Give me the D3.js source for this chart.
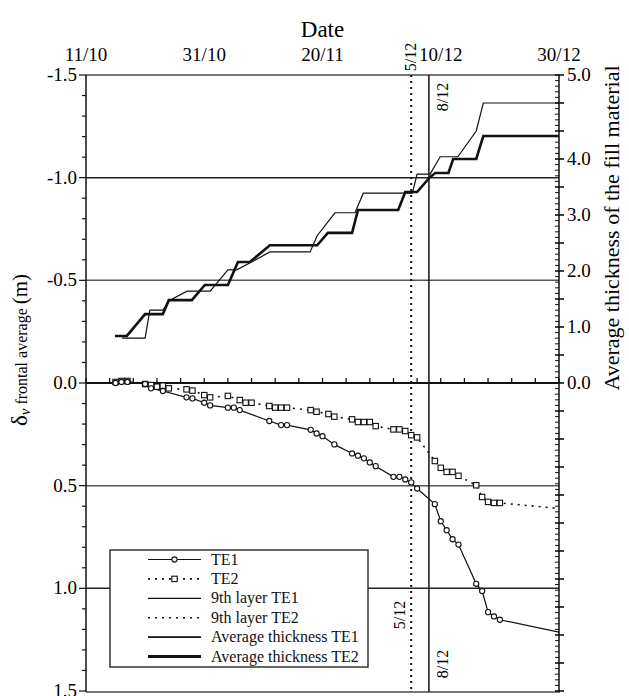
<!DOCTYPE html>
<html>
<head>
<meta charset="utf-8">
<script src="https://cdn.jsdelivr.net/npm/d3@7"></script>
<style>
  body { margin: 0; background: #fff; }
</style>
</head>
<body>
<div id="chart"></div>
<script>
// ── DONNÉES ──────────────────────────────────────────────────────────────
// jours depuis le 11/10
const dateTicks  = [0, 20, 40, 60, 80];
const dateLabels = ['11/10', '31/10', '20/11', '10/12', '30/12'];
const layerDays  = [{ day: 55, label: '5/12', dash: true }, { day: 58, label: '8/12', dash: false }];

const leftTicks  = [-1.5, -1.0, -0.5, 0.0, 0.5, 1.0, 1.5];
const leftLabels = ['-1.5', '-1.0', '-0.5', '0.0', '0.5', '1.0', '1.5'];
const rightTicks  = [0, 1, 2, 3, 4, 5.5];
const rightLabels = ['0.0', '1.0', '2.0', '3.0', '4.0', '5.0'];

// tassement moyen frontal (m) — [jour, valeur]
const te1 = [[5,0],[6,-0.005],[7,-0.005],[10,0.005],[11,0.026],[13,0.039],[17,0.070],[18,0.075],
  [20,0.096],[21,0.109],[24,0.120],[25,0.120],[26,0.132],[31,0.185],[33,0.205],[34,0.205],[38,0.228],
  [39,0.246],[40,0.259],[42,0.299],[45,0.343],[46,0.354],[47,0.367],[48,0.387],[49,0.405],[52,0.457],
  [53,0.457],[54,0.470],[55,0.484],[56,0.514],[59,0.590],[60,0.673],[61,0.717],[62,0.761],[63,0.787],
  [66,0.978],[67,1.013],[68,1.116],[69,1.137],[70,1.153]];
const te1Tail = [[80, 1.213]];
const te2 = [[5,-0.005],[6,-0.01],[7,-0.01],[10,0.005],[11,0.01],[12,0.018],[13,0.013],[14,0.026],
  [17,0.031],[18,0.037],[20,0.059],[21,0.070],[24,0.063],[26,0.083],[27,0.096],[28,0.096],[31,0.112],
  [32,0.120],[33,0.120],[34,0.120],[38,0.132],[39,0.140],[41,0.151],[42,0.164],[45,0.177],[46,0.190],
  [47,0.190],[48,0.190],[49,0.210],[52,0.226],[53,0.226],[54,0.234],[55,0.254],[56,0.265],[59,0.380],
  [60,0.413],[61,0.433],[62,0.433],[63,0.452],[66,0.498],[67,0.555],[68,0.579],[69,0.584],[70,0.584]];
const te2Tail = [[80, 0.611]];

// épaisseur moyenne du remblai (m)
const thickTE1 = [[6.1,0.80],[10.0,0.80],[10.8,1.30],[13.0,1.30],[14.2,1.48],[17.1,1.64],[21.0,1.64],
  [24.0,2.02],[25.5,2.02],[28.0,2.16],[31.1,2.34],[37.9,2.34],[39.1,2.63],[42.1,3.04],[45.5,3.04],
  [46.9,3.39],[55.2,3.39],[56.0,3.73],[58.2,3.73],[59.9,4.04],[62.9,4.04],[66.0,4.50],[67.2,5.0],[80,5.0]];
const thickTE2 = [[4.9,0.84],[6.9,0.84],[10.0,1.23],[13.0,1.23],[14.0,1.48],[17.9,1.48],[20.1,1.75],
  [24.0,1.75],[25.7,2.16],[27.7,2.16],[31.1,2.46],[39.1,2.46],[40.9,2.68],[45.0,2.68],[46.0,3.09],
  [52.8,3.09],[54.0,3.41],[56.0,3.41],[58.2,3.68],[59.1,3.75],[61.3,3.75],[62.1,4.0],[66.0,4.0],
  [67.2,4.41],[80,4.41]];

// ── GRAPHIQUE ────────────────────────────────────────────────────────────
const W = 629, H = 696;
const L = 86, R = 559, T = 75, B = 692;
const svg = d3.select('#chart').append('svg').attr('width', W).attr('height', H)
  .attr('font-family', "'Liberation Serif', 'DejaVu Serif', 'Times New Roman', serif")
  .style('font-family', "'Liberation Serif', 'DejaVu Serif', 'Times New Roman', serif");

const x  = d3.scaleLinear().domain([0, 80]).range([L, R]);
const yL = d3.scaleLinear().domain([-1.5, 1.5]).range([T, B - 1]);
const yR = d3.scaleLinear().domain([0, 5.5]).range([yL(0), T]);

svg.append('defs').append('clipPath').attr('id', 'plot')
  .append('rect').attr('x', L).attr('y', T).attr('width', R - L).attr('height', B - T);

// Grille horizontale
svg.selectAll('.grid').data([-1.0, -0.5, 0.5, 1.0]).enter().append('line')
  .attr('x1', L).attr('x2', R).attr('y1', d => yL(d)).attr('y2', d => yL(d))
  .attr('stroke', d => Math.abs(d) === 1 ? '#222' : '#555').attr('stroke-width', 1.5);

// Cadre haut / bas
[T, B].forEach(yy => svg.append('line').attr('x1', L).attr('x2', R + 1).attr('y1', yy).attr('y2', yy)
  .attr('stroke', '#777').attr('stroke-width', 2));

// Ligne zéro + petits repères tous les 4 jours
svg.append('line').attr('x1', L).attr('x2', R).attr('y1', yL(0)).attr('y2', yL(0))
  .attr('stroke', '#111').attr('stroke-width', 2);
svg.selectAll('.dtick').data(d3.range(0, 81, 4)).enter().append('line')
  .attr('x1', d => x(d)).attr('x2', d => x(d)).attr('y1', yL(0)).attr('y2', yL(0) - 5)
  .attr('stroke', '#111').attr('stroke-width', 1.3);

// Axe gauche
svg.append('line').attr('x1', L).attr('x2', L).attr('y1', T).attr('y2', B).attr('stroke', '#111').attr('stroke-width', 1.5);
svg.selectAll('.lm').data(d3.range(-15, 16).map(i => i / 10)).enter().append('line')
  .attr('x1', L).attr('x2', d => L - (Math.abs(d * 10) % 5 === 0 ? 7 : 4))
  .attr('y1', d => yL(d)).attr('y2', d => yL(d)).attr('stroke', '#111').attr('stroke-width', 1.2);
svg.selectAll('.ll').data(leftTicks).enter().append('text')
  .attr('x', L - 9).attr('y', d => yL(d) + 6).attr('text-anchor', 'end').attr('font-size', '19px')
  .text((d, i) => leftLabels[i]);

// Axe droit
svg.append('line').attr('x1', R).attr('x2', R).attr('y1', T).attr('y2', B).attr('stroke', '#111').attr('stroke-width', 1.5);
svg.selectAll('.rm').data(d3.range(-55, 56)).enter().append('line')
  .attr('x1', d => R - 4).attr('x2', d => (d % 5 === 0 ? R + 5 : R))
  .attr('y1', d => yR(d / 10)).attr('y2', d => yR(d / 10))
  .attr('stroke', '#111').attr('stroke-width', d => d % 5 === 0 ? 1.6 : 1);
svg.selectAll('.rl').data(rightTicks).enter().append('text')
  .attr('x', R + 8).attr('y', d => yR(d) + 6).attr('font-size', '19px')
  .text((d, i) => rightLabels[i]);

// Dates en haut
svg.selectAll('.tl').data(dateTicks).enter().append('text')
  .attr('x', d => x(d)).attr('y', 61).attr('text-anchor', 'middle').attr('font-size', '19px')
  .text((d, i) => dateLabels[i]);
svg.append('text').attr('x', (L + R) / 2).attr('y', 37).attr('text-anchor', 'middle')
  .attr('font-size', '23px').text('Date');

// Titres des axes
svg.append('text').attr('transform', 'translate(27,350) rotate(-90)').attr('text-anchor', 'middle')
  .call(t => {
    t.append('tspan').attr('font-size', '23px').text('δ');
    t.append('tspan').attr('font-size', '15px').attr('font-style', 'italic').attr('dy', 3).text('v');
    t.append('tspan').attr('font-size', '16px').attr('dy', -3).text(' frontal average ');
    t.append('tspan').attr('font-size', '21px').text('(m)');
  });
svg.append('text').attr('transform', 'translate(619,228) rotate(-90)').attr('text-anchor', 'middle')
  .attr('font-size', '22px').text('Average thickness of the fill material');

// Dates de la 9e couche
const g = svg.append('g').attr('clip-path', 'url(#plot)');
layerDays.forEach(l => {
  g.append('line').attr('x1', x(l.day)).attr('x2', x(l.day)).attr('y1', T).attr('y2', B)
    .attr('stroke', '#111').attr('stroke-width', l.dash ? 2 : 1.5)
    .attr('stroke-dasharray', l.dash ? '2,4' : null);
});
const vlab = (xx, yy, txt) => svg.append('text').attr('transform', `translate(${xx},${yy}) rotate(-90)`)
  .attr('text-anchor', 'middle').attr('font-size', '16px').text(txt);
vlab(x(55) + 5, 57, '5/12');
vlab(x(58) + 19, 97, '8/12');
vlab(x(55) - 6, 615, '5/12');
vlab(x(58) + 19, 664, '8/12');

// Courbes
const lineL = d3.line().x(d => x(d[0])).y(d => yL(d[1]));
const lineR = d3.line().x(d => x(d[0])).y(d => yR(d[1]));

g.append('path').datum(thickTE1).attr('d', lineR).attr('fill', 'none').attr('stroke', '#111').attr('stroke-width', 1.2);
g.append('path').datum(thickTE2).attr('d', lineR).attr('fill', 'none').attr('stroke', '#111').attr('stroke-width', 2.6);

g.append('path').datum(te2.concat(te2Tail)).attr('d', lineL).attr('fill', 'none')
  .attr('stroke', '#111').attr('stroke-width', 1.6).attr('stroke-dasharray', '2,5');
g.append('path').datum(te1.concat(te1Tail)).attr('d', lineL).attr('fill', 'none')
  .attr('stroke', '#111').attr('stroke-width', 1.2);

g.selectAll('.sq').data(te2).enter().append('rect')
  .attr('x', d => x(d[0]) - 2.7).attr('y', d => yL(d[1]) - 2.7).attr('width', 5.4).attr('height', 5.4)
  .attr('fill', '#fff').attr('stroke', '#111').attr('stroke-width', 1.1);
g.selectAll('.ci').data(te1).enter().append('circle')
  .attr('cx', d => x(d[0])).attr('cy', d => yL(d[1])).attr('r', 2.6)
  .attr('fill', '#fff').attr('stroke', '#111').attr('stroke-width', 1.1);

// Légende
const legendItems = [
  { label: 'TE1', w: 1.2, dash: null, mark: 'circle' },
  { label: 'TE2', w: 1.6, dash: '2,5', mark: 'square' },
  { label: '9th layer TE1', w: 1.2, dash: null },
  { label: '9th layer TE2', w: 1.6, dash: '2,5' },
  { label: 'Average thickness TE1', w: 1.6, dash: null },
  { label: 'Average thickness TE2', w: 2.8, dash: null }
];
const lg = svg.append('g').attr('transform', 'translate(110,550)');
lg.append('rect').attr('width', 258).attr('height', 117).attr('fill', '#fff')
  .attr('stroke', '#333').attr('stroke-width', 1.5);
legendItems.forEach((it, i) => {
  const yy = 9.5 + i * 19.4;
  lg.append('line').attr('x1', 38).attr('x2', 91).attr('y1', yy).attr('y2', yy)
    .attr('stroke', '#111').attr('stroke-width', it.w).attr('stroke-dasharray', it.dash);
  if (it.mark === 'circle') lg.append('circle').attr('cx', 64.5).attr('cy', yy).attr('r', 2.6)
    .attr('fill', '#fff').attr('stroke', '#111').attr('stroke-width', 1.1);
  if (it.mark === 'square') lg.append('rect').attr('x', 61.8).attr('y', yy - 2.7).attr('width', 5.4).attr('height', 5.4)
    .attr('fill', '#fff').attr('stroke', '#111').attr('stroke-width', 1.1);
  lg.append('text').attr('x', 101).attr('y', yy + 5).attr('font-size', '16px').attr('fill', '#111').text(it.label);
});
</script>
</body>
</html>
